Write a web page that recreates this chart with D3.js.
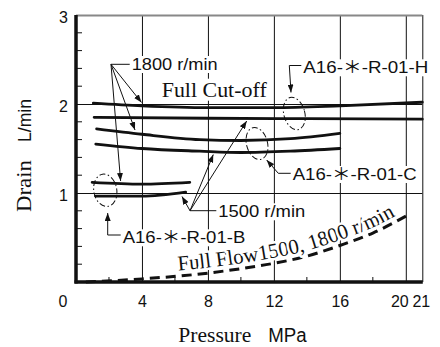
<!DOCTYPE html>
<html><head><meta charset="utf-8">
<script src="https://cdn.jsdelivr.net/npm/d3@7"></script>
<style>body{margin:0;background:#fff}svg{display:block}</style>
</head><body><svg id="c" width="440" height="347"></svg>
<script>
// ---- data ----
const xMajorTicks = [4, 8, 12, 16, 20, 21];
const xMinorTicks = [2, 6, 10, 14, 18];
const yMajorTicks = [1, 2, 3];
const yMinorTicks = [0.2, 0.4, 0.6, 0.8, 1.2, 1.4, 1.6, 1.8, 2.2, 2.4, 2.6, 2.8];

const pH1800 = [1.05, 4, 8, 12, 16, 21];
const vH1800 = [2.01, 1.98, 1.96, 1.96, 1.98, 2.02];
const pH1500 = [1.1, 8, 14, 21];
const vH1500 = [1.85, 1.84, 1.835, 1.83];
const pC1800 = [1.25, 4, 7.5, 10, 13, 16];
const vC1800 = [1.72, 1.66, 1.60, 1.59, 1.61, 1.67];
const pC1500 = [1.2, 4, 7.5, 10, 13, 16];
const vC1500 = [1.55, 1.50, 1.47, 1.455, 1.47, 1.50];
const pB1800 = [0.98, 4, 6.9];
const vB1800 = [1.12, 1.10, 1.12];
const pB1500 = [1.18, 4, 6.65];
const vB1500 = [0.965, 0.965, 1.01];
const pFull = [0.6, 4, 8, 10, 12, 14, 16, 18, 20.2];
const vFull = [0.0, 0.035, 0.10, 0.15, 0.21, 0.29, 0.41, 0.55, 0.76];

const SANS = "'Liberation Sans', Arial, 'Noto Sans CJK JP', sans-serif";
const SERIF = "'Liberation Serif', 'Times New Roman', serif";

const svg = d3.select('#c');
const x = d3.scaleLinear().domain([0, 21]).range([76, 422.3]);
const y = d3.scaleLinear().domain([0, 3]).range([282, 15]);

const defs = svg.append('defs');
defs.append('marker').attr('id', 'arr').attr('viewBox', '0 0 8 6')
  .attr('refX', 8).attr('refY', 3).attr('markerWidth', 8).attr('markerHeight', 6)
  .attr('markerUnits', 'userSpaceOnUse').attr('orient', 'auto')
  .append('path').attr('d', 'M0,0 L8,3 L0,6 z').attr('fill', '#111');

// ---- grid / axes ----
const gx = svg.append('g').attr('transform', `translate(0,${y(0)})`)
  .call(d3.axisBottom(x).tickValues(xMajorTicks).tickSize(-(y(0) - y(3))).tickSizeOuter(0).tickPadding(13.3).tickFormat(d3.format('d')));
gx.select('.domain').remove();
gx.selectAll('line').attr('stroke', '#111').attr('stroke-width', 1);
gx.selectAll('text').attr('font-family', SANS).attr('font-size', 16).attr('fill', '#111')
  .attr('dx', d => d === 20 ? -6.5 : d === 21 ? -1.5 : 0);

const gy = svg.append('g').attr('transform', `translate(${x(0)},0)`)
  .call(d3.axisLeft(y).tickValues(yMajorTicks).tickSize(-(x(21) - x(0))).tickSizeOuter(0).tickPadding(8).tickFormat(d3.format('d')));
gy.select('.domain').remove();
gy.selectAll('line').attr('stroke', d => d === 3 ? '#888' : '#111').attr('stroke-width', d => d === 3 ? 2 : 1);
gy.selectAll('text').attr('font-family', SANS).attr('font-size', 16).attr('fill', '#111').attr('dy', '0.45em');

svg.append('text').attr('x', 63).attr('y', 306.7).attr('text-anchor', 'middle')
  .attr('font-family', SANS).attr('font-size', 16).attr('fill', '#111').text('0');

// minor ticks
svg.append('g').selectAll('line').data(yMinorTicks).join('line')
  .attr('x1', x(0)).attr('x2', x(0) + 6).attr('y1', d => y(d)).attr('y2', d => y(d))
  .attr('stroke', '#111').attr('stroke-width', 1);
svg.append('g').selectAll('line').data(xMinorTicks).join('line')
  .attr('x1', d => x(d)).attr('x2', d => x(d)).attr('y1', y(0)).attr('y2', y(0) - 5)
  .attr('stroke', '#111').attr('stroke-width', 1);

// main axes lines
svg.append('line').attr('x1', x(0)).attr('x2', x(0)).attr('y1', y(3)).attr('y2', y(0) + 1.5)
  .attr('stroke', '#111').attr('stroke-width', 3.5);
svg.append('line').attr('x1', x(0) - 1.5).attr('x2', x(21) + 0.5).attr('y1', y(0)).attr('y2', y(0))
  .attr('stroke', '#111').attr('stroke-width', 3.5);

// ---- labels with white background ----
function label(txt, px, py, font, size, len) {
  const g = svg.append('g');
  const t = g.append('text').attr('x', px).attr('y', py).attr('font-family', font)
    .attr('font-size', size).attr('fill', '#111').text(txt);
  if (len) t.attr('textLength', len).attr('lengthAdjust', 'spacingAndGlyphs');
  const b = t.node().getBBox();
  g.insert('rect', 'text').attr('x', b.x - 2).attr('y', b.y + 1).attr('width', b.width + 4)
    .attr('height', b.height - 2).attr('fill', '#fff');
  return g;
}

// ---- curves ----
const line = d3.line().x(d => x(d[0])).y(d => y(d[1])).curve(d3.curveMonotoneX);
const series = [[pH1800, vH1800], [pH1500, vH1500], [pC1800, vC1800], [pC1500, vC1500], [pB1800, vB1800], [pB1500, vB1500]];
svg.append('g').selectAll('path').data(series).join('path')
  .attr('d', s => line(d3.zip(s[0], s[1])))
  .attr('fill', 'none').attr('stroke', '#111').attr('stroke-width', 2.8).attr('stroke-linecap', 'round');

const fullPts = d3.zip(pFull, vFull);
svg.append('path').attr('d', line(fullPts)).attr('fill', 'none').attr('stroke', '#111')
  .attr('stroke-width', 3).attr('stroke-dasharray', '10,6');

// curved text path above dashed curve (same curve, shifted up, extended past the end)
const offLine = d3.line().x(d => x(d[0])).y(d => y(d[1]) - 5.5).curve(d3.curveMonotoneX);
const ext = fullPts.concat([[22, 0.9]]);
const tp = defs.append('path').attr('id', 'ffp').attr('d', offLine(ext));
const tmp = svg.append('path').attr('d', tp.attr('d')).attr('fill', 'none');
let L = 0; const tot = tmp.node().getTotalLength();
while (L < tot && tmp.node().getPointAtLength(L).x < 178) L += 0.5;
tmp.remove();
svg.append('text').attr('font-family', SERIF).attr('font-size', 21).attr('fill', '#111')
  .attr('stroke', '#fff').attr('stroke-width', 5).attr('paint-order', 'stroke').attr('stroke-linejoin', 'round')
  .append('textPath').attr('href', '#ffp').attr('startOffset', L).attr('textLength', 226)
  .attr('lengthAdjust', 'spacingAndGlyphs').text('Full Flow1500, 1800 r/min');

// ---- ellipses ----
const ell = [[294.3, 113.5, 10.5, 16.5, -15], [257, 143.5, 10.5, 16.3, -15], [105.3, 190.3, 11.5, 16.3, -10]];
svg.append('g').selectAll('ellipse').data(ell).join('ellipse')
  .attr('cx', 0).attr('cy', 0).attr('rx', d => d[2]).attr('ry', d => d[3])
  .attr('transform', d => `translate(${d[0]},${d[1]}) rotate(${d[4]})`)
  .attr('fill', 'none').attr('stroke', '#111').attr('stroke-width', 1).attr('stroke-dasharray', '6,2.5,1.5,2.5');

// ---- leaders ----
function poly(pts, arrow) {
  svg.append('path').attr('d', d3.line()(pts)).attr('fill', 'none').attr('stroke', '#111')
    .attr('stroke-width', 1).attr('marker-end', arrow ? 'url(#arr)' : null);
}
// 1800 r/min
poly([[130, 64.3], [111, 64.3]]);
poly([[111, 64.3], [141.5, 102.5]], true);
poly([[111, 64.3], [135, 130]], true);
poly([[111, 64.3], [120.6, 181]], true);
// 1500 r/min
poly([[218, 210.7], [190, 210.7]]);
poly([[190, 210.7], [182, 196.5]], true);
poly([[190, 210.7], [213.3, 154.5]], true);
poly([[190, 210.7], [246.7, 121]], true);
// H
poly([[302, 65.5], [289.3, 65.5], [291, 92.5]], true);
// C
poly([[292, 173.3], [278.3, 173.3], [266.7, 160]], true);
// B
poly([[121, 235], [107.7, 235], [107.7, 213]], true);

// ---- text labels ----
label('1800 r/min', 131.7, 70, SANS, 17, 86);
label('1500 r/min', 218.3, 217.3, SANS, 17, 87);
label('Full Cut-off', 161.7, 96.7, SERIF, 21, 105);
label('A16-＊-R-01-H', 303.3, 73.3, SANS, 17, 125);
label('A16-＊-R-01-C', 292.7, 180, SANS, 17, 124);
label('A16-＊-R-01-B', 122.7, 243.3, SANS, 17, 122.6);

// axis titles
svg.append('text').attr('x', 178.3).attr('y', 341.7).attr('font-family', SERIF).attr('font-size', 21)
  .attr('fill', '#111').attr('textLength', 73).attr('lengthAdjust', 'spacingAndGlyphs').text('Pressure');
svg.append('text').attr('x', 268.3).attr('y', 341.7).attr('font-family', SANS).attr('font-size', 20)
  .attr('fill', '#111').attr('textLength', 38.4).attr('lengthAdjust', 'spacingAndGlyphs').text('MPa');
svg.append('text').attr('transform', 'translate(30.5,212) rotate(-90)').attr('font-family', SERIF).attr('font-size', 21)
  .attr('fill', '#111').attr('textLength', 52).attr('lengthAdjust', 'spacingAndGlyphs').text('Drain');
svg.append('text').attr('transform', 'translate(30.5,142) rotate(-90)').attr('font-family', SANS).attr('font-size', 18)
  .attr('fill', '#111').attr('textLength', 43).attr('lengthAdjust', 'spacingAndGlyphs').text('L/min');
</script></body></html>
